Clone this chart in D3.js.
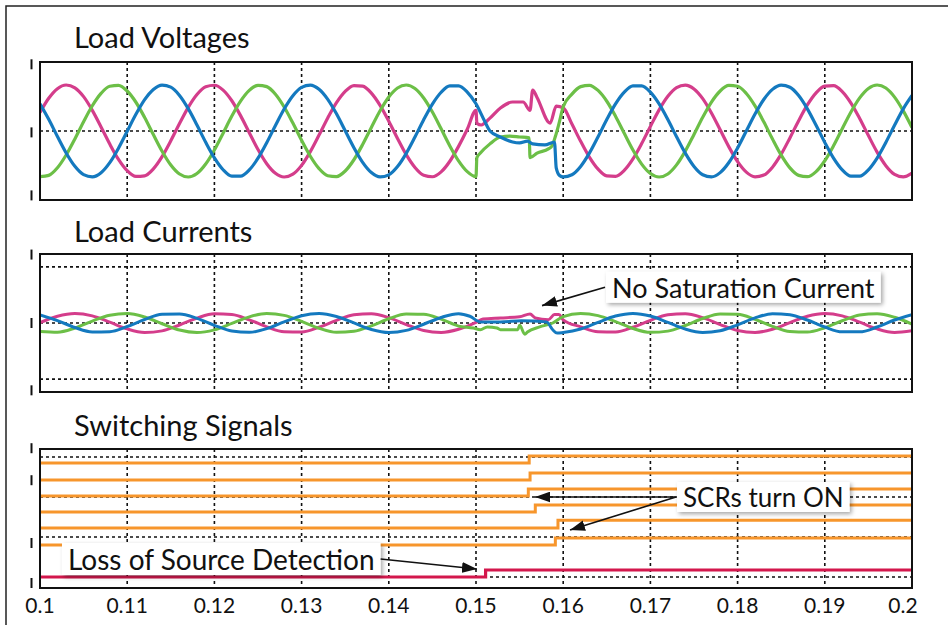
<!DOCTYPE html>
<html>
<head>
<meta charset="utf-8">
<script src="https://cdn.jsdelivr.net/npm/d3@7"></script>
<style>
  body { margin: 0; background: #fff; }
  svg { display: block; font-family: Lato, 'Open Sans', sans-serif; }
</style>
</head>
<body>
<svg id="chart" width="948" height="625"></svg>
<script>
// ---- data ----
const xTicks = [0.1, 0.11, 0.12, 0.13, 0.14, 0.15, 0.16, 0.17, 0.18, 0.19, 0.2];
const xTickLabels = ['0.1', '0.11', '0.12', '0.13', '0.14', '0.15', '0.16', '0.17', '0.18', '0.19', '0.2'];

// load voltages, per unit, sampled every 1 ms before and after the disturbance
const vTimePre = [0.100, 0.101, 0.102, 0.103, 0.104, 0.105, 0.106, 0.107, 0.108, 0.109,
  0.110, 0.111, 0.112, 0.113, 0.114, 0.115, 0.116, 0.117, 0.118, 0.119,
  0.120, 0.121, 0.122, 0.123, 0.124, 0.125, 0.126, 0.127, 0.128, 0.129,
  0.130, 0.131, 0.132, 0.133, 0.134, 0.135, 0.136, 0.137, 0.138, 0.139,
  0.140, 0.141, 0.142, 0.143, 0.144, 0.145, 0.146, 0.147, 0.148, 0.149, 0.150];
const vTimePost = [0.160, 0.161, 0.162, 0.163, 0.164, 0.165, 0.166, 0.167, 0.168, 0.169,
  0.170, 0.171, 0.172, 0.173, 0.174, 0.175, 0.176, 0.177, 0.178, 0.179,
  0.180, 0.181, 0.182, 0.183, 0.184, 0.185, 0.186, 0.187, 0.188, 0.189,
  0.190, 0.191, 0.192, 0.193, 0.194, 0.195, 0.196, 0.197, 0.198, 0.199, 0.200];

const vMagentaPre = [0.402, 0.711, 0.920, 1.000, 0.939, 0.747, 0.449, 0.089, -0.284, -0.617,
  -0.863, -0.988, -0.975, -0.824, -0.558, -0.213, 0.162, 0.514, 0.793, 0.962,
  0.995, 0.889, 0.658, 0.334, -0.037, -0.402, -0.711, -0.920, -1.000, -0.939,
  -0.747, -0.449, -0.089, 0.284, 0.617, 0.863, 0.988, 0.975, 0.824, 0.558,
  0.213, -0.162, -0.514, -0.793, -0.962, -0.995, -0.889, -0.658, -0.334, 0.037, 0.45];
const vGreenPre = [-0.994, -0.965, -0.800, -0.522, -0.172, 0.203, 0.549, 0.818, 0.972, 0.990,
  0.869, 0.625, 0.294, -0.078, -0.440, -0.740, -0.935, -1.000, -0.924, -0.718,
  -0.412, -0.047, 0.324, 0.649, 0.884, 0.994, 0.965, 0.800, 0.522, 0.172,
  -0.203, -0.549, -0.818, -0.972, -0.990, -0.869, -0.625, -0.294, 0.078, 0.440,
  0.740, 0.935, 1.000, 0.924, 0.718, 0.412, 0.047, -0.324, -0.649, -0.884, -0.994];
const vBluePre = [0.592, 0.254, -0.120, -0.477, -0.767, -0.949, -0.998, -0.907, -0.688, -0.373,
  -0.005, 0.363, 0.681, 0.903, 0.998, 0.953, 0.774, 0.486, 0.131, -0.244,
  -0.584, -0.842, -0.981, -0.983, -0.847, -0.592, -0.254, 0.120, 0.477, 0.767,
  0.949, 0.998, 0.907, 0.688, 0.373, 0.005, -0.363, -0.681, -0.903, -0.998,
  -0.953, -0.774, -0.486, -0.131, 0.244, 0.584, 0.842, 0.981, 0.983, 0.847, 0.592];

// [time, value] during the loss of source
const vMagentaFault = [[0.1501, 0.17], [0.1506, 0.13], [0.1516, 0.28], [0.1528, 0.50], [0.1542, 0.63],
  [0.1554, 0.63], [0.1562, 0.45], [0.1565, 0.89], [0.1570, 0.73], [0.1585, 0.17], [0.1592, 0.54]];
const vGreenFault = [[0.1501, -0.58], [0.1505, -0.48], [0.1516, -0.28], [0.1528, -0.13], [0.1539, -0.11],
  [0.1550, -0.13], [0.1561, -0.15], [0.1562, -0.58], [0.1570, -0.48], [0.1583, -0.39], [0.1587, -0.33],
  [0.1591, -0.12], [0.1595, 0.15]];
const vBlueFault = [[0.1510, 0.21], [0.1516, 0.0], [0.1528, -0.13], [0.1542, -0.24], [0.1550, -0.26],
  [0.1559, -0.22], [0.1565, -0.28], [0.1579, -0.30], [0.1590, -0.24], [0.1592, -0.80], [0.1596, -0.97]];

const vMagentaPost = [0.504, 0.150, -0.224, -0.567, -0.830, -0.977, -0.987, -0.857, -0.608, -0.273,
  0.100, 0.460, 0.754, 0.943, 0.999, 0.915, 0.703, 0.391, 0.025, -0.345,
  -0.666, -0.894, -0.996, -0.959, -0.786, -0.504, -0.150, 0.224, 0.567, 0.830,
  0.977, 0.987, 0.857, 0.608, 0.273, -0.100, -0.460, -0.754, -0.943, -0.999, -0.915];
const vGreenPost = [0.525, 0.802, 0.965, 0.994, 0.882, 0.647, 0.321, -0.050, -0.414, -0.720,
  -0.925, -1.000, -0.934, -0.737, -0.437, -0.075, 0.297, 0.628, 0.870, 0.990,
  0.972, 0.816, 0.546, 0.200, -0.175, -0.525, -0.802, -0.965, -0.994, -0.882,
  -0.647, -0.321, 0.050, 0.414, 0.720, 0.925, 1.000, 0.934, 0.737, 0.437, 0.075];
const vBluePost = [-0.998, -0.951, -0.771, -0.482, -0.125, 0.249, 0.588, 0.844, 0.982, 0.982,
  0.844, 0.588, 0.249, -0.125, -0.482, -0.771, -0.951, -0.998, -0.905, -0.685,
  -0.368, 0.000, 0.368, 0.685, 0.905, 0.998, 0.951, 0.771, 0.482, 0.125,
  -0.249, -0.588, -0.844, -0.982, -0.982, -0.844, -0.588, -0.249, 0.125, 0.482, 0.771];

// load currents, per unit, sampled every 2 ms
const iTimePre = [0.100, 0.102, 0.104, 0.106, 0.108, 0.110, 0.112, 0.114, 0.116, 0.118,
  0.120, 0.122, 0.124, 0.126, 0.128, 0.130, 0.132, 0.134, 0.136, 0.138,
  0.140, 0.142, 0.144, 0.146, 0.148];
const iTimePost = [0.160, 0.162, 0.164, 0.166, 0.168, 0.170, 0.172, 0.174, 0.176, 0.178,
  0.180, 0.182, 0.184, 0.186, 0.188, 0.190, 0.192, 0.194, 0.196, 0.198, 0.200];

const iMagentaPre = [0.006, 0.121, 0.170, 0.127, 0.015, -0.105, -0.168, -0.140, -0.036, 0.087,
  0.164, 0.151, 0.057, -0.068, -0.156, -0.160, -0.076, 0.048, 0.147, 0.166,
  0.095, -0.028, -0.135, -0.169, -0.112];
const iGreenPre = [-0.150, -0.164, -0.089, 0.035, 0.139, 0.168, 0.106, -0.013, -0.126, -0.170,
  -0.122, -0.008, 0.110, 0.169, 0.136, 0.029, -0.093, -0.165, -0.148, -0.050,
  0.075, 0.159, 0.157, 0.070, -0.055];
const iBluePre = [0.144, 0.043, -0.081, -0.161, -0.154, -0.063, 0.062, 0.154, 0.162, 0.083,
  -0.041, -0.143, -0.167, -0.101, 0.020, 0.130, 0.170, 0.117, 0.001, -0.116,
  -0.170, -0.132, -0.022, 0.099, 0.167];

const iMagentaFault = [[0.1500, 0.01], [0.1508, 0.07], [0.1528, 0.09], [0.1550, 0.11], [0.1562, 0.16],
  [0.1568, 0.09], [0.1583, 0.06], [0.1590, 0.15], [0.1595, 0.15]];
const iGreenFault = [[0.1497, -0.09], [0.1505, -0.12], [0.1513, -0.07], [0.1524, -0.09], [0.1528, -0.12],
  [0.1548, -0.12], [0.1550, -0.04], [0.1556, -0.20], [0.1559, -0.16], [0.1573, -0.07], [0.1588, 0.0]];
const iBlueFault = [[0.1493, 0.12], [0.1505, 0.02], [0.1528, 0.02], [0.1552, 0.04], [0.1581, 0.02],
  [0.1588, -0.12], [0.1593, -0.18]];

const iMagentaPost = [0.057, -0.068, -0.156, -0.160, -0.076, 0.048, 0.147, 0.166, 0.095, -0.028,
  -0.135, -0.169, -0.112, 0.006, 0.121, 0.170, 0.127, 0.015, -0.105, -0.168, -0.140];
const iGreenPost = [0.115, 0.170, 0.132, 0.023, -0.098, -0.167, -0.145, -0.044, 0.080, 0.161,
  0.155, 0.065, -0.061, -0.153, -0.162, -0.084, 0.040, 0.142, 0.167, 0.102, -0.019];
const iBluePost = [-0.169, -0.108, 0.011, 0.124, 0.170, 0.124, 0.011, -0.108, -0.169, -0.138,
  -0.032, 0.091, 0.165, 0.149, 0.053, -0.072, -0.158, -0.158, -0.072, 0.053, 0.149];

// switching signals: six SCR gates (orange) + loss of source detection (red)
const scrLevelOff = [2.85, 2.425, 2.025, 1.625, 1.225, 0.80];
const scrLevelOn = [3.025, 2.60, 2.20, 1.80, 1.42, 0.975];
const scrOnTime = [0.1561, 0.1562, 0.1560, 0.1568, 0.1594, 0.1591];
const detectLevel = [0, 0.175];
const detectTime = 0.1511;

// ---- layout ----
const colors = { magenta: '#d43d8b', green: '#6cbf47', blue: '#1479bf', orange: '#f7962c', red: '#d3174c' };
const svg = d3.select('#chart');
const x = d3.scaleLinear().domain([0.1, 0.2]).range([40, 912]);

const panels = [
  { title: 'Load Voltages', titleY: 48, top: 62, bottom: 200, domain: [-1.5, 1.5], grid: [0], marks: [1.45, -0.03, -1.4] },
  { title: 'Load Currents', titleY: 242, top: 254, bottom: 392, domain: [-1.23, 1.23], grid: [-1, 0, 1], marks: [1.22, 0, -1.2] },
  { title: 'Switching Signals', titleY: 436, top: 449, bottom: 588, domain: [-0.275, 3.2], grid: [0, 1, 2, 3], marks: [3.22, 2.42, 0.85, -0.15] },
];
panels.forEach((p) => {
  p.y = d3.scaleLinear().domain(p.domain).range([p.bottom, p.top]);
});

const defs = svg.append('defs');
const shadow = defs.append('filter').attr('id', 'shadow')
  .attr('x', '-10%').attr('y', '-30%').attr('width', '130%').attr('height', '180%');
shadow.append('feDropShadow').attr('dx', 2).attr('dy', 2).attr('stdDeviation', 2)
  .attr('flood-color', '#000').attr('flood-opacity', 0.35);
defs.append('marker').attr('id', 'head')
  .attr('markerUnits', 'userSpaceOnUse')
  .attr('viewBox', '0 0 14 10').attr('refX', 14).attr('refY', 5)
  .attr('markerWidth', 15).attr('markerHeight', 11).attr('orient', 'auto')
  .append('path').attr('d', 'M0,0 L14,5 L0,10 Z').attr('fill', '#111');

// outer frame (only top/left edges fall inside the picture)
svg.append('path').attr('d', 'M6,625 L6,6 L948,6')
  .attr('fill', 'none').attr('stroke', '#222').attr('stroke-width', 1.5);

const line = (p) => d3.line()
  .x((d) => x(d[0]))
  .y((d) => p.y(d[1]))
  .curve(d3.curveMonotoneX);

const joinSeries = (tPre, vPre, fault, tPost, vPost) =>
  tPre.map((t, i) => [t, vPre[i]]).concat(fault, tPost.map((t, i) => [t, vPost[i]]));

panels.forEach((p, pi) => {
  const g = svg.append('g');
  defs.append('clipPath').attr('id', 'clip' + pi)
    .append('rect').attr('x', x(0.1)).attr('y', p.top).attr('width', x(0.2) - x(0.1)).attr('height', p.bottom - p.top);

  g.append('text').attr('x', 74).attr('y', p.titleY)
    .attr('font-size', 29).attr('fill', '#111').text(p.title);

  // grid
  g.selectAll('.vgrid').data(xTicks).enter().append('line')
    .attr('x1', (d) => x(d)).attr('x2', (d) => x(d))
    .attr('y1', p.top).attr('y2', p.bottom)
    .attr('stroke', '#111').attr('stroke-width', 1.6).attr('stroke-dasharray', '3,3');
  g.selectAll('.hgrid').data(p.grid).enter().append('line')
    .attr('x1', x(0.1)).attr('x2', x(0.2) + 3)
    .attr('y1', (d) => p.y(d)).attr('y2', (d) => p.y(d))
    .attr('stroke', '#111').attr('stroke-width', 1.6).attr('stroke-dasharray', '3,3');

  // y "labels" are only short bars in the original
  g.selectAll('.mark').data(p.marks).enter().append('line')
    .attr('x1', 31.5).attr('x2', 31.5)
    .attr('y1', (d) => p.y(d) - 5).attr('y2', (d) => p.y(d) + 5)
    .attr('stroke', '#111').attr('stroke-width', 2);

  p.plot = g.append('g').attr('clip-path', 'url(#clip' + pi + ')');
  p.g = g;
});

// voltages
const pv = panels[0];
[
  [vMagentaPre, vMagentaFault, vMagentaPost, colors.magenta],
  [vGreenPre, vGreenFault, vGreenPost, colors.green],
  [vBluePre, vBlueFault, vBluePost, colors.blue],
].forEach(([pre, fault, post, c]) => {
  pv.plot.append('path')
    .datum(joinSeries(vTimePre, pre, fault, vTimePost, post))
    .attr('d', line(pv)).attr('fill', 'none')
    .attr('stroke', c).attr('stroke-width', 3.2).attr('stroke-linejoin', 'round');
});

// currents
const pc = panels[1];
[
  [iMagentaPre, iMagentaFault, iMagentaPost, colors.magenta],
  [iGreenPre, iGreenFault, iGreenPost, colors.green],
  [iBluePre, iBlueFault, iBluePost, colors.blue],
].forEach(([pre, fault, post, c]) => {
  pc.plot.append('path')
    .datum(joinSeries(iTimePre, pre, fault, iTimePost, post))
    .attr('d', line(pc)).attr('fill', 'none')
    .attr('stroke', c).attr('stroke-width', 3).attr('stroke-linejoin', 'round');
});

// switching signals
const ps = panels[2];
const step = d3.line().x((d) => x(d[0])).y((d) => ps.y(d[1])).curve(d3.curveStepAfter);
scrOnTime.forEach((t, i) => {
  ps.plot.append('path')
    .datum([[0.1, scrLevelOff[i]], [t, scrLevelOn[i]], [0.2, scrLevelOn[i]]])
    .attr('d', step).attr('fill', 'none')
    .attr('stroke', colors.orange).attr('stroke-width', 3);
});
ps.plot.append('path')
  .datum([[0.1, detectLevel[0]], [detectTime, detectLevel[1]], [0.2, detectLevel[1]]])
  .attr('d', step).attr('fill', 'none')
  .attr('stroke', colors.red).attr('stroke-width', 3.2);

// panel frames
panels.forEach((p) => {
  p.g.append('rect').attr('x', x(0.1)).attr('y', p.top)
    .attr('width', x(0.2) - x(0.1)).attr('height', p.bottom - p.top)
    .attr('fill', 'none').attr('stroke', '#111').attr('stroke-width', 2);
});

// x axis labels under the last panel
svg.append('g').selectAll('text').data(xTicks).enter().append('text')
  .attr('x', (d, i) => x(d) - (i === xTicks.length - 1 ? 9 : 0))
  .attr('y', 613)
  .attr('text-anchor', 'middle').attr('font-size', 21).attr('fill', '#111')
  .text((d, i) => xTickLabels[i]);

// callouts
const callouts = [
  { panel: 1, text: 'No Saturation Current', t: 0.1656, v: 0.45, size: 27, side: 'left', tips: [[0.15757, 0.31]] },
  { panel: 2, text: 'SCRs turn ON', t: 0.17374, v: 1.75, size: 26, side: 'left', tips: [[0.15677, 2.0], [0.16078, 1.175]] },
  { panel: 2, text: 'Loss of Source Detection', t: 0.10321, v: 0.175, size: 28, side: 'right', tips: [[0.15011, 0.2]] },
];
callouts.forEach((c) => {
  const p = panels[c.panel];
  const g = svg.append('g');
  const rect = g.append('rect').attr('fill', '#fff').attr('filter', 'url(#shadow)');
  const label = g.append('text').attr('x', x(c.t)).attr('y', p.y(c.v))
    .attr('font-size', c.size).attr('fill', '#111').text(c.text);
  const bb = label.node().getBBox();
  const bx = bb.x - 6, by = bb.y + 1, bw = bb.width + 12, bh = bb.height - 2;
  rect.attr('x', bx).attr('y', by).attr('width', bw).attr('height', bh);
  const tail = [c.side === 'left' ? bx - 1 : bx + bw, by + bh / 2];
  c.tips.forEach((tip) => {
    g.append('line')
      .attr('x1', tail[0]).attr('y1', tail[1])
      .attr('x2', x(tip[0])).attr('y2', p.y(tip[1]))
      .attr('stroke', '#111').attr('stroke-width', 1.6)
      .attr('marker-end', 'url(#head)');
  });
});
</script>
</body>
</html>
